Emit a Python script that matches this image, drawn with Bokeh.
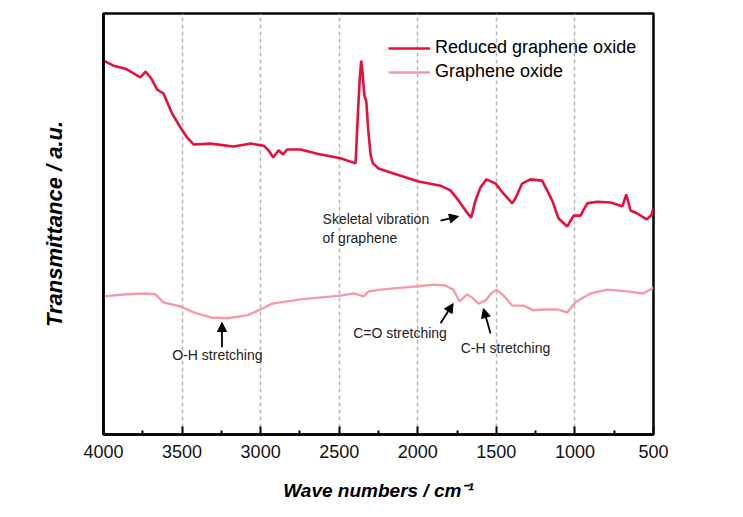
from bokeh.plotting import figure
from bokeh.models import (Range1d, FixedTicker, Legend, LegendItem, Arrow,
                          NormalHead, Label)
from bokeh.embed import file_html
from bokeh.resources import INLINE

# ---- data (wavenumber cm^-1, transmittance a.u.) ----
rgo_wn = [4000, 3936, 3860, 3765, 3733, 3700, 3658, 3618, 3563, 3510, 3467, 3427,
          3319, 3172, 3064, 2980, 2950, 2920, 2886, 2857, 2832, 2746, 2640, 2492,
          2396, 2383, 2370, 2360, 2350, 2340, 2328, 2315, 2300, 2285, 2250, 2154,
          1995, 1855, 1792, 1741, 1686, 1660, 1633, 1601, 1563, 1505, 1454, 1399,
          1378, 1336, 1283, 1209, 1145, 1104, 1049, 1008, 964, 922, 858, 773,
          698, 673, 646, 603, 544, 515, 500]
rgo_t = [88.8, 87.6, 86.9, 84.8, 86.2, 84.8, 81.9, 81.0, 76.2, 72.9, 70.5, 68.9,
         69.1, 68.4, 69.1, 68.6, 67.5, 65.8, 67.5, 66.5, 67.7, 67.7, 66.7, 65.6,
         64.4, 74.6, 84.1, 88.8, 85.3, 80.5, 79.3, 72.2, 66.3, 64.4, 63.2, 62.0,
         60.1, 59.1, 58.0, 55.6, 52.7, 51.5, 55.6, 58.7, 60.6, 59.6, 57.2, 54.9,
         56.1, 59.6, 60.6, 60.3, 55.6, 51.3, 49.4, 52.0, 52.0, 54.9, 55.3, 55.1,
         54.2, 57.0, 53.2, 52.5, 51.1, 52.0, 53.7]

go_wn = [4000, 3849, 3745, 3669, 3618, 3510, 3427, 3319, 3213, 3086, 3001, 2926,
         2746, 2492, 2409, 2345, 2313, 2237, 2154, 1995, 1898, 1823, 1774, 1734,
         1686, 1654, 1613, 1569, 1527, 1499, 1454, 1399, 1326, 1263, 1200, 1113,
         1049, 997, 901, 795, 668, 564, 500]
go_t = [32.8, 33.3, 33.5, 33.3, 31.4, 30.4, 29.0, 27.8, 27.6, 28.3, 29.7, 31.1,
        32.1, 33.0, 33.5, 32.8, 34.0, 34.4, 34.7, 35.2, 35.6, 35.4, 34.4, 31.6,
        33.3, 32.5, 31.1, 31.8, 33.7, 34.4, 33.0, 30.6, 30.6, 29.5, 29.7, 29.7,
        29.0, 31.4, 33.5, 34.4, 34.0, 33.5, 34.9]

x_ticks = [4000, 3500, 3000, 2500, 2000, 1500, 1000, 500]
x_minor = [3750, 3250, 2750, 2250, 1750, 1250, 750]
series_names = ["Reduced graphene oxide", "Graphene oxide"]

# annotations: (text, x, y, align)
notes = [("Skeletal vibration", 2606, 51.1, "left"),
         ("of graphene", 2606, 46.6, "left"),
         ("O-H stretching", 3275, 19.0, "center"),
         ("C=O stretching", 2113, 24.0, "center"),
         ("C-H stretching", 1442, 20.6, "center")]
arrows = [(1855, 50.8, 1741, 51.8),
          (3246, 20.7, 3246, 26.6),
          (1855, 26.4, 1775, 31.1),
          (1537, 24.0, 1582, 29.9)]

RED = "#e8103a"
PINK = "#f59aa8"
FONT = "Liberation Sans"

p = figure(width=735, height=512, output_backend="svg", toolbar_location=None,
           x_range=Range1d(4000, 500), y_range=Range1d(0, 100),
           min_border_left=103, min_border_right=82, min_border_top=13,
           min_border_bottom=78)
p.background_fill_color = "white"
p.border_fill_color = "white"
p.outline_line_color = "black"
p.outline_line_width = 2.5

r1 = p.line(rgo_wn, rgo_t, line_color=RED, line_width=2.6)
r2 = p.line(go_wn, go_t, line_color=PINK, line_width=2.4)

# x axis
xa = p.xaxis[0]
xa.ticker = FixedTicker(ticks=x_ticks, minor_ticks=x_minor)
xa.axis_line_width = 2.5
xa.axis_line_color = "black"
xa.major_tick_in = 8
xa.major_tick_out = 0
xa.minor_tick_in = 4
xa.minor_tick_out = 0
xa.major_tick_line_width = 2
xa.minor_tick_line_width = 2
xa.major_label_text_font = FONT
xa.major_label_text_font_size = "18px"
xa.major_label_text_color = "#111111"
xa.major_label_standoff = 10
xa.axis_label = "Wave numbers / cm\u207b\u00b9"
xa.axis_label_text_font = FONT
xa.axis_label_text_font_size = "19px"
xa.axis_label_text_font_style = "bold italic"
xa.axis_label_text_color = "black"
xa.axis_label_standoff = 19

ya = p.yaxis[0]
ya.ticker = FixedTicker(ticks=[])
ya.major_tick_line_color = None
ya.minor_tick_line_color = None
ya.axis_line_width = 2.5
ya.axis_label = "Transmittance / a.u."
ya.axis_label_text_font = FONT
ya.axis_label_text_font_size = "22px"
ya.axis_label_text_font_style = "bold italic"
ya.axis_label_text_color = "black"
ya.axis_label_standoff = 37

p.xgrid.ticker = FixedTicker(ticks=x_ticks[1:-1])
p.xgrid.grid_line_color = "#b5b5b5"
p.xgrid.grid_line_width = 1.5
p.xgrid.grid_line_dash = "4 3"
p.ygrid.grid_line_color = None

legend = Legend(items=[LegendItem(label=series_names[0], renderers=[r1]),
                       LegendItem(label=series_names[1], renderers=[r2])],
                location=(285, 352), orientation="vertical")
legend.glyph_width = 42
legend.glyph_height = 20
legend.label_height = 20
legend.spacing = 3
legend.padding = 0
legend.margin = 0
legend.label_standoff = 5
legend.label_text_font = FONT
legend.label_text_font_size = "18px"
legend.label_text_color = "black"
legend.border_line_color = None
legend.background_fill_alpha = 0
p.add_layout(legend)

for txt, x, y, al in notes:
    p.add_layout(Label(x=x, y=y, text=txt, text_font=FONT, text_font_size="14px",
                       text_color="#222222", text_align=al, text_baseline="middle"))

for xs, ys, xe, ye in arrows:
    p.add_layout(Arrow(x_start=xs, y_start=ys, x_end=xe, y_end=ye,
                       line_width=1.8, line_color="black",
                       end=NormalHead(size=9, fill_color="black", line_color="black")))

open("out.html", "w").write(file_html(p, INLINE))
